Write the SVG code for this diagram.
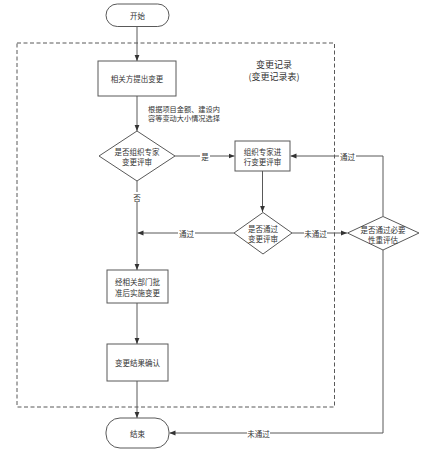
<svg xmlns="http://www.w3.org/2000/svg" width="424" height="453" viewBox="0 0 424 453">
<style>
.shape{fill:#fff;stroke:#595959;stroke-width:1}
.line{fill:none;stroke:#595959;stroke-width:1}
text{font-family:"Noto Sans CJK SC","Liberation Sans",sans-serif;font-size:7.5px;fill:#333;text-anchor:middle;dominant-baseline:central}
.note{text-anchor:start;font-size:7.2px}
.lbl{fill:#fff;stroke:none}
</style>
<defs>
<marker id="arr" viewBox="0 0 10 10" refX="10" refY="5" markerWidth="6" markerHeight="6" orient="auto" markerUnits="userSpaceOnUse">
<path d="M0,1 L10,5 L0,9 Z" fill="#333"/>
</marker>
</defs>
<rect x="0" y="0" width="424" height="453" fill="#fff"/>
<g id="container">
<rect x="17" y="43" width="317.5" height="364" fill="none" stroke="#595959" stroke-width="1" stroke-dasharray="4,2.5"/>
<text x="274" y="64" style="font-size:9px">变更记录</text>
<text x="274" y="76" style="font-size:9px">(变更记录表)</text>
</g>
<g id="connectors">
<path class="line" d="M137,26 V61" marker-end="url(#arr)"/>
<path class="line" d="M137,96 V131" marker-end="url(#arr)"/>
<text class="note" x="148" y="108.5">根据项目金额、建设内</text>
<text class="note" x="148" y="117.7">容等变动大小情况选择</text>
<path class="line" d="M175,156 H234.5" marker-end="url(#arr)"/>
<rect class="lbl" x="200" y="151" width="10" height="10"/>
<text x="205" y="156">是</text>
<path class="line" d="M137,181 V270" marker-end="url(#arr)"/>
<rect class="lbl" x="132" y="192" width="10" height="10"/>
<text x="137" y="197">否</text>
<path class="line" d="M262.5,171 V212" marker-end="url(#arr)"/>
<path class="line" d="M234,233 H137.5" marker-end="url(#arr)"/>
<rect class="lbl" x="178" y="228" width="17" height="10"/>
<text x="186.5" y="233.5">通过</text>
<path class="line" d="M292,233 H347" marker-end="url(#arr)"/>
<rect class="lbl" x="304" y="228" width="23" height="10"/>
<text x="315.5" y="233.5">未通过</text>
<path class="line" d="M383,216 V156 H290.5" marker-end="url(#arr)"/>
<rect class="lbl" x="339" y="151" width="17" height="10"/>
<text x="347.5" y="156">通过</text>
<path class="line" d="M137,303 V344" marker-end="url(#arr)"/>
<path class="line" d="M137,381 V418" marker-end="url(#arr)"/>
<path class="line" d="M383,250 V433 H169.5" marker-end="url(#arr)"/>
<rect class="lbl" x="247" y="428" width="23" height="10"/>
<text x="258.5" y="433.5">未通过</text>
</g>
<g id="start">
<rect class="shape" x="106" y="4" width="63" height="22.5" rx="11.25"/>
<text x="137.5" y="15.5">开始</text>
</g>
<g id="propose">
<rect class="shape" x="98" y="61" width="78" height="35"/>
<text x="137" y="78.5">相关方提出变更</text>
</g>
<g id="decision1">
<polygon class="shape" points="137,131 175,156 137,181 99,156"/>
<text x="137" y="151.5">是否组织专家</text>
<text x="137" y="161.5">变更评审</text>
</g>
<g id="expert">
<rect class="shape" x="235" y="141" width="55" height="30"/>
<text x="262.5" y="151.5">组织专家进</text>
<text x="262.5" y="161">行变更评审</text>
</g>
<g id="decision2">
<polygon class="shape" points="263,212.5 292,233 263,254 234,233"/>
<text x="263" y="228.5">是否通过</text>
<text x="263" y="238.5">变更评审</text>
</g>
<g id="decision3">
<polygon class="shape" points="383,216.5 419,233 383,250 347.5,233"/>
<text x="383" y="229">是否通过必要</text>
<text x="383" y="239">性重评估</text>
</g>
<g id="implement">
<rect class="shape" x="107" y="270" width="61" height="33"/>
<text x="137.5" y="281.5">经相关部门批</text>
<text x="137.5" y="292">准后实施变更</text>
</g>
<g id="confirm">
<rect class="shape" x="107" y="344" width="61" height="37"/>
<text x="137.5" y="362.5">变更结果确认</text>
</g>
<g id="end">
<rect class="shape" x="106" y="418" width="63" height="30" rx="14"/>
<text x="137.5" y="433">结束</text>
</g>
</svg>
